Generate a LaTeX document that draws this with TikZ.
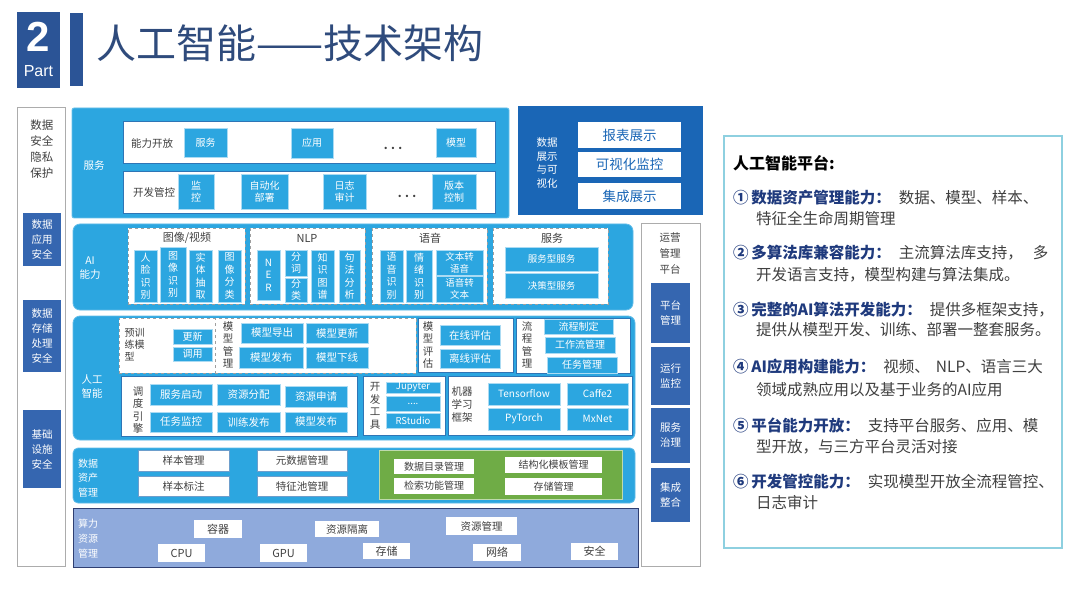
\documentclass[tikz,border=0pt]{standalone}
\usepackage{fontspec}
\setmainfont{Noto Sans CJK SC}
\newfontfamily\arial{Liberation Sans}
\usepackage{xcolor}
\usetikzlibrary{positioning}
\definecolor{skyb}{HTML}{2CA6E0}
\definecolor{deepb}{HTML}{1A66B6}
\definecolor{colb}{HTML}{3566B0}
\definecolor{hdrb}{HTML}{2B5496}
\definecolor{titc}{HTML}{2F4B7C}
\definecolor{cmpf}{HTML}{8FAADC}
\definecolor{cmpd}{HTML}{2F3F72}
\definecolor{grn}{HTML}{6FAC46}
\definecolor{navy}{HTML}{1F3A7D}
\definecolor{panelc}{HTML}{8ED0E0}
\definecolor{txtg}{HTML}{404040}
\definecolor{frameb}{HTML}{2E75B6}
\newcommand\fz[2]{\fontsize{#1}{#2}\selectfont}
\tikzset{
  layer/.style={fill=skyb,draw=skyb!75!white,line width=.8pt,rounded corners=7pt},
  tag/.style={text=white,align=center,font=\fz{10.5}{14}},
  celb/.style={fill=skyb,draw=skyb!40!white,line width=.6pt,text=white,
    align=center,inner sep=0pt,font=\fz{10}{12.5}},
  rowc/.style={celb,font=\fz{10.5}{12}},
  celw/.style={fill=white,draw=frameb!70,line width=.5pt,text=txtg,
    align=center,inner sep=0pt,font=\fz{10.5}{12}},
  zone/.style={fill=white,draw=frameb,line width=.7pt},
  dzone/.style={fill=white,draw=gray!75,dashed,line width=.7pt},
  sidebox/.style={fill=colb,text=white,align=center,inner sep=0pt,font=\fz{10.5}{15}},
  vtext/.style={text=txtg,align=center,font=\fz{10.5}{12.5}},
  item/.style={anchor=west,inner sep=0pt,text=txtg,font=\fz{15.5}{18}}
}

\begin{document}
\begin{tikzpicture}[x=1pt,y=-1pt]
\useasboundingbox[fill=white] (0,0) rectangle (1080,607);

% header
\node[fill=hdrb,minimum width=43,minimum height=76,inner sep=0pt] (part) at (38.5,50) {};
\node[text=white,font=\arial\bfseries\fz{42}{42},inner sep=0pt] (partnum) at (38.5,37) {2};
\node[text=white,font=\arial\fz{16}{16},inner sep=0pt] (partword) at (38.5,71) {Part};
\node[fill=hdrb,minimum width=13,minimum height=73,inner sep=0pt] (bar) at (76.5,49.5) {};
\node[anchor=west,text=titc,font=\fz{40}{40},inner sep=0pt] (title) at (96,43) {人工智能——技术架构};

% left column
\node[fill=white,draw=gray!65,line width=1pt,minimum width=48,minimum height=458] (lcol) at (41,337) {};
\node[text=txtg,align=center,font=\fz{11.5}{16}] (lcolt) at (42,149) {数据\\安全\\隐私\\保护};
\node[sidebox,minimum width=38,minimum height=53] (sec1) at (42,239.5) {数据\\应用\\安全};
\node[sidebox,minimum width=38,minimum height=72] (sec2) at (42,336) {数据\\存储\\处理\\安全};
\node[sidebox,minimum width=38,minimum height=78] (sec3) at (42,449) {基础\\设施\\安全};

% service layer
\node[fill=skyb,draw=skyb!70!white,line width=.8pt,rounded corners=2pt,
  minimum width=437,minimum height=110] (svc) at (290.5,163) {};
\node[tag] (svct) at (94,166) {服务};
\node[zone,minimum width=372,minimum height=42] (row1) at (309,142) {};
\node[zone,minimum width=372,minimum height=42] (row2) at (309,192) {};
\node[vtext] (row1t) at (152,144) {能力开放};
\node[vtext] (row2t) at (154,193) {开发管控};
\node[celb,minimum width=43,minimum height=29] (open1) at (205.5,142.5) {服务};
\node[celb,minimum width=42,minimum height=30] (open2) at (312,143) {应用};
\node[font=\bfseries\fz{11}{11},text=txtg] (open3) at (393,148) {. . .};
\node[celb,minimum width=40,minimum height=29] (open4) at (456,142.5) {模型};
\node[celb,minimum width=36,minimum height=35] (ctl1) at (196,191.5) {监\\控};
\node[celb,minimum width=47,minimum height=35] (ctl2) at (264.5,191.5) {自动化\\部署};
\node[celb,minimum width=43,minimum height=35] (ctl3) at (344.5,191.5) {日志\\审计};
\node[font=\bfseries\fz{11}{11},text=txtg] (ctl4) at (407,196) {. . .};
\node[celb,minimum width=44,minimum height=35] (ctl5) at (454,191.5) {版本\\控制};

% display block
\node[fill=deepb,minimum width=185,minimum height=109] (disp) at (610.5,160.5) {};
\node[tag,font=\fz{10.5}{13.5}] (dispt) at (547,163) {数据\\展示\\与可\\视化};
\node[fill=white,text=deepb,font=\fz{13.5}{14},minimum width=103,minimum height=26] (disp1) at (629.5,135) {报表展示};
\node[fill=white,text=deepb,font=\fz{13.5}{14},minimum width=103,minimum height=25] (disp2) at (629.5,164.5) {可视化监控};
\node[fill=white,text=deepb,font=\fz{13.5}{14},minimum width=103,minimum height=26] (disp3) at (629.5,196) {集成展示};

% AI capability layer
\node[layer,minimum width=560,minimum height=86] (ai) at (353,267) {};
\node[tag] (ait) at (90,268) {AI\\能力};
\node[dzone,minimum width=117,minimum height=76] (img) at (186.5,266) {};
\node[dzone,minimum width=115,minimum height=76] (nlp) at (307.5,266) {};
\node[dzone,minimum width=115,minimum height=76] (spk) at (429.5,266) {};
\node[dzone,minimum width=115,minimum height=76] (srv) at (550.5,266) {};
\node[vtext,font=\fz{11}{12}] (imgt) at (187,238) {图像/视频};
\node[vtext,font=\fz{11}{12}] (nlpt) at (307,238) {NLP};
\node[vtext,font=\fz{11}{12}] (spkt) at (430,238) {语音};
\node[vtext,font=\fz{11}{12}] (srvt) at (552,238) {服务};
\node[celb,minimum width=23,minimum height=52] (img1) at (145.5,276) {人\\脸\\识\\别};
\node[celb,minimum width=26,minimum height=55] (img2) at (173,274.5) {图\\像\\识\\别};
\node[celb,minimum width=23,minimum height=52] (img3) at (200.5,276) {实\\体\\抽\\取};
\node[celb,minimum width=23,minimum height=52] (img4) at (229.5,276) {图\\像\\分\\类};
\node[celb,minimum width=23,minimum height=50] (nlp1) at (268.5,275) {N\\E\\R};
\node[celb,minimum width=22,minimum height=26] (nlp2) at (296,263) {分\\词};
\node[celb,minimum width=22,minimum height=24] (nlp3) at (296,290) {分\\类};
\node[celb,minimum width=23,minimum height=52] (nlp4) at (322.5,276) {知\\识\\图\\谱};
\node[celb,minimum width=21,minimum height=52] (nlp5) at (349.5,276) {句\\法\\分\\析};
\node[celb,minimum width=23,minimum height=52] (spk1) at (391.5,276) {语\\音\\识\\别};
\node[celb,minimum width=26,minimum height=52] (spk2) at (419,276) {情\\绪\\识\\别};
\node[celb,font=\fz{9.5}{12},minimum width=47,minimum height=25] (spk3) at (459.5,262.5) {文本转\\语音};
\node[celb,font=\fz{9.5}{12},minimum width=47,minimum height=26] (spk4) at (459.5,289) {语音转\\文本};
\node[celb,font=\fz{9.5}{12},minimum width=93,minimum height=24] (srv1) at (551.5,259) {服务型服务};
\node[celb,font=\fz{9.5}{12},minimum width=93,minimum height=25] (srv2) at (551.5,285.5) {决策型服务};

% AI platform layer
\node[layer,minimum width=562,minimum height=124] (plat) at (354,378) {};
\node[tag] (platt) at (92,387) {人工\\智能};
\node[dzone,minimum width=96,minimum height=55] (pre) at (167,345.5) {};
\node[dzone,minimum width=201,minimum height=55] (mgm) at (315.5,345.5) {};
\node[anchor=west,text=txtg,align=left,font=\fz{10}{12}] (pret) at (121,345) {预训\\练模\\型};
\node[celb,minimum width=39,minimum height=15] (pre1) at (192.5,336.5) {更新};
\node[celb,minimum width=39,minimum height=14] (pre2) at (192.5,354) {调用};
\node[vtext] (mgmt) at (228,345) {模\\型\\管\\理};
\node[rowc,minimum width=62,minimum height=20] (mgm1) at (272,333) {模型导出};
\node[rowc,minimum width=62,minimum height=20] (mgm2) at (337,333) {模型更新};
\node[rowc,minimum width=64,minimum height=21] (mgm3) at (271,357.5) {模型发布};
\node[rowc,minimum width=62,minimum height=21] (mgm4) at (337,357.5) {模型下线};
\node[zone,minimum width=95,minimum height=54] (evl) at (465.5,345) {};
\node[vtext] (evlt) at (428,345) {模\\型\\评\\估};
\node[rowc,minimum width=60,minimum height=20] (evl1) at (470,335) {在线评估};
\node[rowc,minimum width=60,minimum height=19] (evl2) at (470,358.5) {离线评估};
\node[zone,minimum width=114,minimum height=55] (flw) at (573,345.5) {};
\node[vtext] (flwt) at (527,345) {流\\程\\管\\理};
\node[celb,minimum width=69,minimum height=15] (flw1) at (578.5,326.5) {流程制定};
\node[celb,minimum width=70,minimum height=16] (flw2) at (580,345) {工作流管理};
\node[celb,minimum width=70,minimum height=16] (flw3) at (582,365) {任务管理};
\node[zone,minimum width=236,minimum height=60] (sch) at (239,406) {};
\node[vtext] (scht) at (138,410) {调\\度\\引\\擎};
\node[rowc,minimum width=62,minimum height=21] (sch1) at (181,394.5) {服务启动};
\node[rowc,minimum width=63,minimum height=21] (sch2) at (248.5,394.5) {资源分配};
\node[rowc,minimum width=62,minimum height=21] (sch3) at (316,396.5) {资源申请};
\node[rowc,minimum width=62,minimum height=20] (sch4) at (181,422) {任务监控};
\node[rowc,minimum width=63,minimum height=20] (sch5) at (248.5,422) {训练发布};
\node[rowc,minimum width=62,minimum height=20] (sch6) at (316,422) {模型发布};
\node[zone,minimum width=82,minimum height=59] (dev) at (404,405.5) {};
\node[vtext] (devt) at (375,406) {开\\发\\工\\具};
\node[celb,font=\fz{9.5}{10},minimum width=54,minimum height=11] (dev1) at (413,387.5) {Jupyter};
\node[celb,font=\fz{9.5}{10},minimum width=54,minimum height=15] (dev2) at (413,403.5) {....};
\node[celb,font=\fz{9.5}{10},minimum width=54,minimum height=15] (dev3) at (413,420.5) {RStudio};
\node[zone,minimum width=184,minimum height=59] (mlf) at (540,405.5) {};
\node[vtext,font=\fz{10.5}{13}] (mlft) at (462,405) {机器\\学习\\框架};
\node[rowc,font=\fz{10}{12},minimum width=72,minimum height=22] (mlf1) at (524,394) {Tensorflow};
\node[rowc,font=\fz{10}{12},minimum width=61,minimum height=22] (mlf2) at (597.5,394) {Caffe2};
\node[rowc,font=\fz{10}{12},minimum width=72,minimum height=22] (mlf3) at (524,419) {PyTorch};
\node[rowc,font=\fz{10}{12},minimum width=61,minimum height=22] (mlf4) at (597.5,419) {MxNet};

% data asset layer
\node[layer,rounded corners=5pt,minimum width=562,minimum height=55] (dam) at (354,475.5) {};
\node[tag,font=\fz{10}{14.5}] (damt) at (88,478) {数据\\资产\\管理};
\node[celw,minimum width=91,minimum height=21] (dam1) at (183.5,460.5) {样本管理};
\node[celw,minimum width=91,minimum height=20] (dam2) at (183.5,486) {样本标注};
\node[celw,minimum width=90,minimum height=21] (dam3) at (302,460.5) {元数据管理};
\node[celw,minimum width=90,minimum height=20] (dam4) at (302,486) {特征池管理};
\node[fill=grn,draw=grn!45!white,line width=1pt,minimum width=243,minimum height=49] (store) at (500.5,474.5) {};
\node[celw,draw=none,font=\fz{10}{12},minimum width=80,minimum height=15] (store1) at (434,466.5) {数据目录管理};
\node[celw,draw=none,font=\fz{10}{12},minimum width=80,minimum height=16] (store2) at (434,486) {检索功能管理};
\node[celw,draw=none,font=\fz{10}{12},minimum width=97,minimum height=16] (store3) at (553.5,465) {结构化模板管理};
\node[celw,draw=none,font=\fz{10}{12},minimum width=97,minimum height=17] (store4) at (553.5,486.5) {存储管理};

% compute layer
\node[fill=cmpf,draw=cmpd,line width=1pt,minimum width=565,minimum height=59] (cmp) at (355.5,537.5) {};
\node[tag,font=\fz{10}{15}] (cmpt) at (88,539) {算力\\资源\\管理};
\node[celw,draw=none,font=\fz{11}{12},minimum width=48,minimum height=18] (cmp1) at (218,529) {容器};
\node[celw,draw=none,font=\fz{11}{12},minimum width=47,minimum height=18] (cmp2) at (181.5,553) {CPU};
\node[celw,draw=none,font=\fz{11}{12},minimum width=47,minimum height=18] (cmp3) at (283.5,553) {GPU};
\node[celw,draw=none,minimum width=64,minimum height=16] (cmp4) at (347,529) {资源隔离};
\node[celw,draw=none,font=\fz{11}{12},minimum width=47,minimum height=16] (cmp5) at (386.5,551) {存储};
\node[celw,draw=none,minimum width=71,minimum height=18] (cmp6) at (481.5,526) {资源管理};
\node[celw,draw=none,font=\fz{11}{12},minimum width=48,minimum height=17] (cmp7) at (497,552.5) {网络};
\node[celw,draw=none,font=\fz{11}{12},minimum width=47,minimum height=17] (cmp8) at (594.5,551.5) {安全};

% right column
\node[fill=white,draw=gray!65,line width=1pt,minimum width=59,minimum height=342] (ops) at (670.5,395) {};
\node[text=txtg,align=center,font=\fz{10.5}{16}] (opst) at (670,254) {运营\\管理\\平台};
\node[sidebox,minimum width=39,minimum height=60] (ops1) at (670.5,313) {平台\\管理};
\node[sidebox,minimum width=39,minimum height=58] (ops2) at (670.5,376) {运行\\监控};
\node[sidebox,minimum width=39,minimum height=55] (ops3) at (670.5,435.5) {服务\\治理};
\node[sidebox,minimum width=39,minimum height=54] (ops4) at (670.5,495) {集成\\整合};

% text panel
\node[fill=white,draw=panelc,line width=1.5pt,minimum width=338,minimum height=412] (panel) at (893,342) {};
\node[item,text=black,font=\bfseries\fz{16}{18}] (ph) at (733,163) {人工智能平台:};
\node[item] (p1a) at (733,198) {{\color{navy}\bfseries ①\,数据资产管理能力：}\hspace{8pt}数据、模型、样本、};
\node[item] (p1b) at (756,219) {特征全生命周期管理};
\node[item] (p2a) at (733,253) {{\color{navy}\bfseries ②\,多算法库兼容能力：}\hspace{8pt}主流算法库支持，\hspace{10pt}多};
\node[item] (p2b) at (756,275) {开发语言支持，模型构建与算法集成。};
\node[item] (p3a) at (733,310) {{\color{navy}\bfseries ③\,完整的AI算法开发能力：}\hspace{8pt}提供多框架支持，};
\node[item] (p3b) at (756,330) {提供从模型开发、训练、部署一整套服务。};
\node[item] (p4a) at (733,367) {{\color{navy}\bfseries ④\,AI应用构建能力：}\hspace{8pt}视频、\hspace{6pt}NLP、语言三大};
\node[item] (p4b) at (756,390) {领域成熟应用以及基于业务的AI应用};
\node[item] (p5a) at (733,425) {{\color{navy}\bfseries ⑤\,平台能力开放：}\hspace{8pt}支持平台服务、应用、模};
\node[item] (p5b) at (756,447) {型开放，与三方平台灵活对接};
\node[item] (p6a) at (733,482) {{\color{navy}\bfseries ⑥\,开发管控能力：}\hspace{8pt}实现模型开放全流程管控、};
\node[item] (p6b) at (756,503) {日志审计};
\end{tikzpicture}
\end{document}
